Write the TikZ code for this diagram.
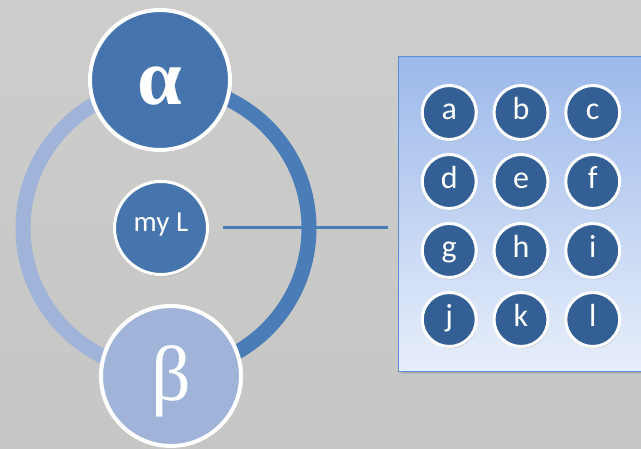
\documentclass[tikz,border=0pt]{standalone}
\usepackage{fontspec}
\setmainfont{Carlito}
\newfontfamily\greekfont{Liberation Serif}
\usetikzlibrary{matrix,shadows,positioning}

\definecolor{ringdark}{HTML}{4A7CB8}
\definecolor{ringlight}{HTML}{9FB4D8}
\definecolor{bubbledark}{HTML}{4674AC}
\definecolor{letterfill}{HTML}{335F94}
\definecolor{paneltop}{HTML}{9CB8EA}
\definecolor{panelbottom}{HTML}{E8EFFB}
\definecolor{panelline}{HTML}{5A8DD6}
\definecolor{bgtop}{HTML}{CDCDCB}
\definecolor{bgmid}{HTML}{ADABA6}
\definecolor{bgbottom}{HTML}{C6C6C4}

\tikzset{
  bubble/.style={circle, draw=white, fill=#1, text=white, inner sep=0pt,
    drop shadow={opacity=0.35, shadow xshift=1pt, shadow yshift=-2pt}},
  bigbubble/.style={bubble=#1, line width=4pt, minimum size=140pt,
    text height=62pt, text depth=12pt},
  letter/.style={bubble=letterfill, line width=3pt, minimum size=54pt,
    text height=22pt, text depth=7pt, font=\fontsize{32}{36}\selectfont},
  ringarc/.style={draw=#1, line width=15pt},
  link/.style={draw=ringdark, line width=3pt},
  panelbox/.style={draw=panelline, line width=1pt, top color=paneltop,
    bottom color=panelbottom, drop shadow={opacity=0.3}}
}

\begin{document}
\begin{tikzpicture}[x=1pt,y=1pt]
\useasboundingbox (0,0) rectangle (641,449);
% background
\shade[top color=bgtop, middle color=bgmid, bottom color=bgbottom]
  (0,0) rectangle (641,449);

\coordinate (hub) at (166,221);

% panel with the letters
\node (panel) [panelbox, anchor=north west, minimum width=250pt,
  minimum height=315pt] at (398,393) {};

\matrix (grid) [matrix of nodes, column sep=14.75pt, row sep=12pt,
  nodes={letter, anchor=center}] at (521,233) {
a & b & c \\
d & e & f \\
g & h & i \\
j & k & l \\
};

% ring
\node (myL) [bubble=bubbledark, line width=3pt, minimum size=93pt,
  text height=14pt, text depth=7pt, font=\fontsize{29}{32}\selectfont]
  at (161,221) {my L};
\draw[link, shorten <=14pt, shorten >=10pt] (myL.east) -- (myL.east -| panel.west);

\draw[ringarc=ringlight] (hub) ++(92:143) arc[start angle=92, end angle=272, radius=143];
\draw[ringarc=ringdark] (hub) ++(-88:143) arc[start angle=-88, end angle=92, radius=143];

\node (alpha) [bigbubble=bubbledark, font=\greekfont\bfseries\fontsize{80}{80}\selectfont]
  at (160,369) {α};
\node (beta) [bigbubble=ringlight, font=\greekfont\fontsize{78}{78}\selectfont]
  at (171,73) {β};
\end{tikzpicture}
\end{document}
